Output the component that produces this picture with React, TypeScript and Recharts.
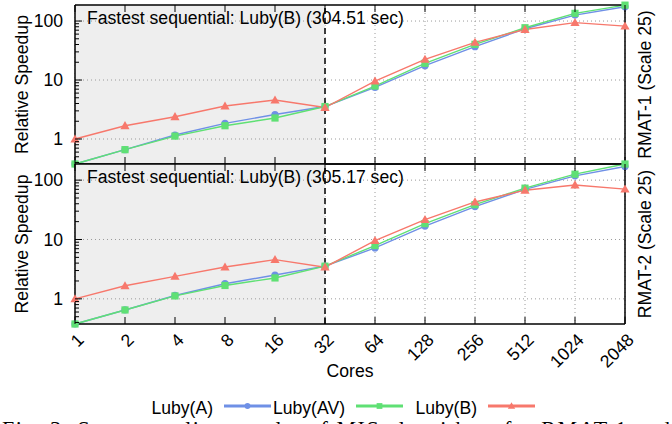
import React from 'react';
import {
  LineChart,
  Line,
  XAxis,
  YAxis,
  CartesianGrid,
  ReferenceArea,
  ReferenceLine,
  Legend,
} from 'recharts';

const cores = ['1', '2', '4', '8', '16', '32', '64', '128', '256', '512', '1024', '2048'];

// RMAT-1 (Scale 25)
const rmat1LubyA = [0.377, 0.66, 1.17, 1.84, 2.6, 3.55, 7.5, 17.5, 36.7, 74, 126, 175];
const rmat1LubyAV = [0.377, 0.66, 1.12, 1.68, 2.27, 3.55, 7.9, 19.2, 40.3, 77, 135, 186];
const rmat1LubyB = [1.0, 1.68, 2.39, 3.62, 4.58, 3.42, 9.6, 22.4, 43.5, 72, 94, 82];

// RMAT-2 (Scale 25)
const rmat2LubyA = [0.377, 0.65, 1.14, 1.8, 2.52, 3.55, 7.2, 16.8, 35.9, 70, 118, 170];
const rmat2LubyAV = [0.377, 0.65, 1.12, 1.68, 2.25, 3.55, 7.9, 18.5, 38.6, 73.3, 126, 187];
const rmat2LubyB = [1.0, 1.66, 2.39, 3.44, 4.58, 3.42, 9.6, 21.6, 42.9, 67.7, 83, 70.6];

const seqTimes = ['304.51', '305.17'];

const yMajor = [1, 10, 100];
const yTicks = [
  0.4, 0.5, 0.6, 0.7, 0.8, 0.9, 1, 2, 3, 4, 5, 6, 7, 8, 9, 10, 20, 30, 40, 50, 60, 70, 80, 90, 100,
];
const yDomain = [0.377, 187];

const series = [
  { key: 'lubyA', name: 'Luby(A)', color: '#6f90e6', shape: 'circle' },
  { key: 'lubyAV', name: 'Luby(AV)', color: '#5fe074', shape: 'square' },
  { key: 'lubyB', name: 'Luby(B)', color: '#f7786c', shape: 'triangle' },
];

const FONT = '"Liberation Sans", Arial, Helvetica, sans-serif';
const FS = 17.6;

function makeRows(a: number[], av: number[], b: number[]) {
  return cores.map((c, i) => ({ cores: c, lubyA: a[i], lubyAV: av[i], lubyB: b[i] }));
}

const rmat1 = makeRows(rmat1LubyA, rmat1LubyAV, rmat1LubyB);
const rmat2 = makeRows(rmat2LubyA, rmat2LubyAV, rmat2LubyB);

function Marker({ shape, cx, cy, color, s = 1 }: any) {
  if (cx == null || cy == null) return null;
  if (shape === 'circle') return <circle cx={cx} cy={cy} r={3.6 * s} fill={color} />;
  if (shape === 'square') {
    const h = 3.6 * s;
    return <rect x={cx - h} y={cy - h} width={2 * h} height={2 * h} fill={color} />;
  }
  const h = 4.6 * s;
  return (
    <path d={`M${cx},${cy - h} L${cx + h},${cy + h * 0.75} L${cx - h},${cy + h * 0.75} Z`} fill={color} />
  );
}

function LeftTick({ x, y, payload }: any) {
  const major = yMajor.includes(payload.value);
  return (
    <g>
      <line x1={x} y1={y} x2={x + (major ? 7 : 4)} y2={y} stroke="#000" strokeWidth={1} />
      {major && (
        <text x={x - 12} y={y} dy="0.36em" textAnchor="end" fontSize={FS} fill="#000" fontFamily={FONT}>
          {payload.value}
        </text>
      )}
    </g>
  );
}

function RightTick({ x, y, payload }: any) {
  const major = yMajor.includes(payload.value);
  return <line x1={x} y1={y} x2={x - (major ? 7 : 4)} y2={y} stroke="#000" strokeWidth={1} />;
}

function TopTick({ x, y }: any) {
  return <line x1={x} y1={y} x2={x} y2={y + 7} stroke="#000" strokeWidth={1} />;
}

function BottomTick({ x, y, payload, showLabel }: any) {
  return (
    <g>
      <line x1={x} y1={y} x2={x} y2={y - 7} stroke="#000" strokeWidth={1} />
      {showLabel && (
        <text
          x={x + 10}
          y={y + 17}
          textAnchor="end"
          fontSize={FS}
          fill="#000"
          fontFamily={FONT}
          transform={`rotate(-45, ${x + 10}, ${y + 17})`}
        >
          {payload.value}
        </text>
      )}
    </g>
  );
}

function LegendContent() {
  return (
    <svg width={672} height={30} style={{ display: 'block' }}>
      {series.map((s, i) => {
        const end = 271 + i * 132;
        return (
          <g key={s.key}>
            <text x={end - 58} y={22} textAnchor="end" fontSize={FS} fill="#000" fontFamily={FONT}>
              {s.name}
            </text>
            <line x1={end - 47} y1={14} x2={end} y2={14} stroke={s.color} strokeWidth={3} />
            <Marker shape={s.shape} cx={end - 23.5} cy={14} color={s.color} s={0.8} />
          </g>
        );
      })}
    </svg>
  );
}

function Panel({ data, seq, side, height, marginTop, bottomAxisHeight, marginBottom, showX }: any) {
  return (
    <LineChart
      width={672}
      height={height}
      data={data}
      margin={{ top: marginTop, right: 7, bottom: marginBottom, left: 0 }}
      style={{ fontFamily: FONT }}
    >
      <ReferenceArea x1="1" x2="32" fill="#eeeeee" fillOpacity={1} stroke="none" ifOverflow="visible"
        label={{
          value: `Fastest sequential: Luby(B) (${seq} sec)`,
          position: 'insideTopLeft',
          offset: 7,
          dx: 5,
          fontSize: FS,
          fill: '#000',
        }}
      />
      <CartesianGrid horizontal={false} stroke="#9a9a9a" strokeDasharray="1 3" />
      {yMajor.map((v) => (
        <ReferenceLine key={v} y={v} stroke="#9a9a9a" strokeDasharray="1 3" />
      ))}
      <ReferenceLine x="32" stroke="#000" strokeWidth={1.5} strokeDasharray="6 4" />
      <XAxis
        dataKey="cores"
        type="category"
        interval={0}
        height={bottomAxisHeight}
        tickSize={0}
        tickMargin={0}
        axisLine={{ stroke: '#000', strokeWidth: 1.5 }}
        tickLine={false}
        tick={(p: any) => <BottomTick {...p} showLabel={showX} />}
        label={showX ? { value: 'Cores', position: 'insideBottom', offset: 7, fontSize: FS, fill: '#000' } : undefined}
      />
      <XAxis
        xAxisId="top"
        orientation="top"
        dataKey="cores"
        type="category"
        interval={0}
        height={1}
        tickSize={0}
        tickMargin={0}
        axisLine={{ stroke: '#000', strokeWidth: 1.5 }}
        tickLine={false}
        tick={(p: any) => <TopTick {...p} />}
      />
      <YAxis
        scale="log"
        domain={yDomain}
        ticks={yTicks}
        interval={0}
        width={75}
        tickSize={0}
        tickMargin={0}
        axisLine={{ stroke: '#000', strokeWidth: 1.5 }}
        tickLine={false}
        tick={(p: any) => <LeftTick {...p} />}
        label={{ value: 'Relative Speedup', angle: -90, position: 'center', dx: -16, fontSize: FS, fill: '#000' }}
      />
      <YAxis
        yAxisId="right"
        orientation="right"
        scale="log"
        domain={yDomain}
        ticks={yTicks}
        interval={0}
        width={40}
        tickSize={0}
        tickMargin={0}
        axisLine={{ stroke: '#000', strokeWidth: 1.5 }}
        tickLine={false}
        tick={(p: any) => <RightTick {...p} />}
        label={{ value: side, angle: -90, position: 'center', fontSize: FS, fill: '#000' }}
      />
      {series.map((s) => (
        <Line
          key={s.key}
          type="linear"
          dataKey={s.key}
          name={s.name}
          stroke={s.color}
          strokeWidth={1.4}
          isAnimationActive={false}
          activeDot={false}
          dot={(p: any) => <Marker key={`${s.key}-${p.index}`} shape={s.shape} cx={p.cx} cy={p.cy} color={s.color} />}
        />
      ))}
      {showX && (
        <Legend
          layout="horizontal"
          verticalAlign="middle"
          align="center"
          wrapperStyle={{ top: 232, left: 0, width: 672 }}
          content={() => <LegendContent />}
        />
      )}
    </LineChart>
  );
}

export default function App() {
  return (
    <div
      style={{
        position: 'absolute',
        left: 0,
        top: 0,
        width: 672,
        height: 424,
        background: '#fff',
        overflow: 'hidden',
        fontFamily: FONT,
      }}
    >
      <div style={{ position: 'absolute', left: 0, top: 0 }}>
        <Panel
          data={rmat1}
          seq={seqTimes[0]}
          side="RMAT-1 (Scale 25)"
          height={170}
          marginTop={4}
          bottomAxisHeight={1}
          marginBottom={5}
          showX={false}
        />
      </div>
      <div style={{ position: 'absolute', left: 0, top: 160 }}>
        <Panel
          data={rmat2}
          seq={seqTimes[1]}
          side="RMAT-2 (Scale 25)"
          height={264}
          marginTop={3}
          bottomAxisHeight={60}
          marginBottom={40}
          showX={true}
        />
      </div>
      <svg width={672} height={29} style={{ position: 'absolute', left: 0, top: 395 }}>
        <text
          x={2}
          y={41}
          fontSize={22}
          fill="#000"
          fontFamily='"Liberation Serif", "Times New Roman", serif'
          textLength={668}
          lengthAdjust="spacing"
        >
          Fig. 3: Strong scaling results of MIS algorithms for RMAT-1 and
        </text>
      </svg>
    </div>
  );
}
